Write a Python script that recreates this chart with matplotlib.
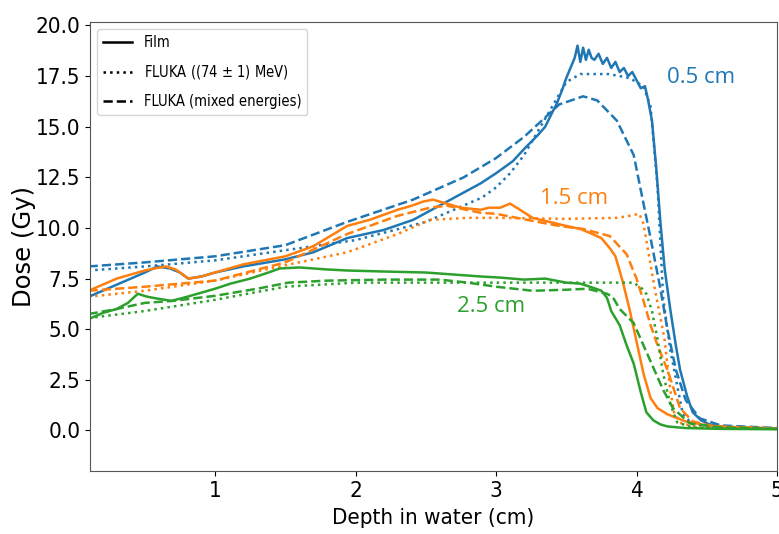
import matplotlib
matplotlib.use("Agg")
import matplotlib.pyplot as plt
from matplotlib.lines import Line2D

plt.rcParams['font.family'] = ['DejaVu Sans']
plt.rcParams['font.stretch'] = 'condensed'

# colours of the three field sizes
c_05 = '#1f77b4'
c_15 = '#ff7f0e'
c_25 = '#2ca02c'

# ---- 0.5 cm ----
x05_film = [0.10, 0.2, 0.3, 0.4, 0.5, 0.59, 0.68, 0.75, 0.81, 0.9, 1.0, 1.2, 1.5, 1.7, 1.94, 2.2, 2.41, 2.65,
            2.89, 3.0, 3.12, 3.2, 3.3, 3.35, 3.4, 3.43, 3.47, 3.5, 3.53, 3.56, 3.58, 3.6, 3.62, 3.64, 3.66, 3.68,
            3.7, 3.73, 3.76, 3.79, 3.82, 3.85, 3.88, 3.91, 3.94, 3.97, 4.0, 4.03, 4.06, 4.08,
            4.11, 4.14, 4.17, 4.2, 4.24, 4.28, 4.31, 4.36, 4.4, 4.46, 4.52, 4.6, 4.8, 5.0]
y05_film = [6.6, 6.9, 7.2, 7.5, 7.8, 8.1, 8.0, 7.8, 7.5, 7.6, 7.8, 8.1, 8.45, 8.8, 9.5, 9.9, 10.4, 11.3,
            12.2, 12.7, 13.3, 13.9, 14.6, 15.0, 15.7, 16.1, 16.8, 17.4, 17.9, 18.4, 19.0, 18.2, 18.9, 18.3, 18.8, 18.4,
            18.3, 18.6, 18.1, 18.4, 17.9, 18.2, 17.7, 17.9, 17.5, 17.7, 17.3, 16.9, 17.0, 16.4,
            15.3, 13.0, 10.3, 8.0, 6.0, 4.2, 3.0, 1.7, 0.9, 0.5, 0.3, 0.2, 0.12, 0.1]
x05_f74 = [0.1, 0.5, 1.0, 1.5, 2.0, 2.5, 2.9, 3.0, 3.1, 3.2, 3.3, 3.4, 3.5, 3.6, 3.7, 3.8, 3.88, 3.95, 4.05,
           4.1, 4.15, 4.19, 4.24, 4.29, 4.33, 4.4, 4.6, 5.0]
y05_f74 = [7.9, 8.1, 8.4, 8.9, 9.4, 10.3, 11.5, 12.0, 12.7, 13.6, 14.8, 16.0, 17.2, 17.6, 17.6, 17.6, 17.5, 17.4, 17.0,
           16.0, 12.0, 6.5, 4.0, 2.2, 0.8, 0.3, 0.15, 0.1]
x05_fmix = [0.1, 0.5, 1.0, 1.5, 1.94, 2.41, 2.77, 3.0, 3.2, 3.31, 3.45, 3.62, 3.72, 3.86, 3.98, 4.05, 4.1, 4.17,
            4.22, 4.28, 4.35, 4.45, 4.6, 5.0]
y05_fmix = [8.1, 8.3, 8.6, 9.15, 10.3, 11.4, 12.5, 13.45, 14.5, 15.2, 16.1, 16.5, 16.3, 15.3, 13.6, 11.2, 9.5, 7.0,
            5.0, 3.0, 1.5, 0.6, 0.25, 0.12]

# ---- 1.5 cm ----
x15_film = [0.1, 0.2, 0.3, 0.4, 0.5, 0.57, 0.65, 0.72, 0.81, 0.9, 1.0, 1.2, 1.5, 1.7, 1.94, 2.1, 2.3, 2.4, 2.48,
            2.55, 2.65, 2.75, 2.89, 2.95, 3.03, 3.1, 3.17, 3.26, 3.38, 3.5, 3.6, 3.67, 3.75, 3.81, 3.85, 3.9,
            3.95, 4.0, 4.05, 4.1, 4.15, 4.22, 4.35, 4.5, 4.7, 5.0]
y15_film = [6.9, 7.2, 7.5, 7.7, 7.9, 8.0, 8.1, 7.95, 7.5, 7.6, 7.8, 8.2, 8.6, 9.1, 10.1, 10.4, 10.9, 11.1, 11.3,
            11.4, 11.2, 11.0, 10.9, 11.0, 11.0, 11.2, 10.9, 10.5, 10.3, 10.1, 9.95, 9.75, 9.5, 9.0, 8.6, 7.4,
            6.0, 4.4, 2.8, 1.6, 1.1, 0.8, 0.45, 0.25, 0.15, 0.1]
x15_f74 = [0.1, 0.5, 1.0, 1.46, 1.94, 2.3, 2.53, 2.8, 3.0, 3.5, 3.86, 3.95, 4.02, 4.05, 4.08, 4.13, 4.2, 4.24,
           4.27, 4.32, 4.45, 5.0]
y15_f74 = [6.6, 6.9, 7.4, 8.1, 8.8, 9.7, 10.4, 10.5, 10.5, 10.45, 10.5, 10.6, 10.7, 10.2, 9.0, 7.0, 4.5, 2.0,
           0.8, 0.35, 0.15, 0.1]
x15_fmix = [0.1, 0.5, 1.0, 1.5, 1.94, 2.3, 2.53, 2.65, 2.89, 3.0, 3.26, 3.45, 3.62, 3.81, 3.93, 4.0, 4.05, 4.1,
            4.15, 4.22, 4.31, 4.4, 4.55, 5.0]
y15_fmix = [6.9, 7.1, 7.4, 8.3, 9.7, 10.6, 11.0, 11.1, 10.75, 10.7, 10.35, 10.1, 9.95, 9.6, 8.7, 7.5, 6.4, 5.2,
            4.2, 3.0, 1.1, 0.45, 0.2, 0.1]

# ---- 2.5 cm ----
x25_film = [0.1, 0.2, 0.3, 0.38, 0.45, 0.52, 0.6, 0.69, 0.8, 0.9, 1.0, 1.11, 1.25, 1.38, 1.46, 1.6, 1.8, 1.94,
            2.2, 2.5, 2.8, 2.9, 3.03, 3.2, 3.35, 3.5, 3.6, 3.69, 3.75, 3.79, 3.82, 3.88, 3.93, 3.98, 4.03, 4.07,
            4.12, 4.17, 4.22, 4.35, 4.6, 5.0]
y25_film = [5.5, 5.8, 6.0, 6.3, 6.75, 6.6, 6.5, 6.4, 6.6, 6.8, 7.0, 7.25, 7.5, 7.8, 8.0, 8.05, 7.95, 7.9,
            7.85, 7.8, 7.65, 7.6, 7.55, 7.45, 7.5, 7.3, 7.25, 7.05, 6.9, 6.55, 5.9, 5.2, 4.2, 3.3, 1.9, 0.9,
            0.5, 0.3, 0.2, 0.12, 0.08, 0.06]
x25_f74 = [0.1, 0.5, 1.0, 1.5, 2.0, 2.5, 3.0, 3.5, 3.86, 3.98, 4.04, 4.07, 4.11, 4.15, 4.19, 4.24, 4.29, 4.4, 5.0]
y25_f74 = [5.55, 5.9, 6.45, 7.1, 7.3, 7.3, 7.3, 7.3, 7.3, 7.3, 7.0, 6.75, 5.9, 4.5, 2.8, 1.3, 0.4, 0.15, 0.08]
x25_fmix = [0.1, 0.3, 0.5, 0.7, 1.0, 1.3, 1.52, 1.8, 2.2, 2.6, 2.8, 3.0, 3.26, 3.5, 3.65, 3.79, 3.83, 3.88,
            3.98, 4.05, 4.12, 4.19, 4.26, 4.38, 4.6, 5.0]
y25_fmix = [5.75, 6.0, 6.3, 6.4, 6.65, 7.0, 7.3, 7.4, 7.45, 7.45, 7.3, 7.1, 6.9, 6.95, 7.0, 6.75, 6.6, 6.0,
            5.3, 4.2, 3.1, 2.0, 1.1, 0.35, 0.15, 0.08]

labels = ['Film', 'FLUKA ((74 $\\pm$ 1) MeV)', 'FLUKA (mixed energies)']

fig = plt.figure(figsize=(7.79, 5.34), dpi=100)
ax = fig.add_axes([90/779, 63/534, 687/779, 449/534])

lw = 1.8
ax.plot(x05_film, y05_film, '-', color=c_05, lw=lw)
ax.plot(x05_f74, y05_f74, ':', color=c_05, lw=lw)
ax.plot(x05_fmix, y05_fmix, '--', color=c_05, lw=lw)
ax.plot(x15_film, y15_film, '-', color=c_15, lw=lw)
ax.plot(x15_f74, y15_f74, ':', color=c_15, lw=lw)
ax.plot(x15_fmix, y15_fmix, '--', color=c_15, lw=lw)
ax.plot(x25_film, y25_film, '-', color=c_25, lw=lw)
ax.plot(x25_f74, y25_f74, ':', color=c_25, lw=lw)
ax.plot(x25_fmix, y25_fmix, '--', color=c_25, lw=lw)

# annotations with normal width font
ax.text(4.22, 17.45, '0.5 cm', color=c_05, fontsize=16, family='Open Sans', fontstretch='normal', va='center')
ax.text(3.31, 11.45, '1.5 cm', color=c_15, fontsize=16, family='Open Sans', fontstretch='normal', va='center')
ax.text(2.72, 6.1, '2.5 cm', color=c_25, fontsize=16, family='Open Sans', fontstretch='normal', va='center')

ax.set_xlim(0.11, 5.0)
ax.set_ylim(-2.0, 20.17)
ax.set_xticks([1, 2, 3, 4, 5])
ax.set_yticks([0, 2.5, 5, 7.5, 10, 12.5, 15, 17.5, 20])
ax.set_yticklabels(['0.0', '2.5', '5.0', '7.5', '10.0', '12.5', '15.0', '17.5', '20.0'])
ax.tick_params(labelsize=16)
ax.set_xlabel('Depth in water (cm)', fontsize=16, labelpad=5)
ax.set_ylabel('Dose (Gy)', fontsize=17.5, fontstretch='normal')
ax.yaxis.set_label_coords(-0.078, 0.5)
for s in ax.spines.values():
    s.set_color('#555555')

handles = [Line2D([], [], color='black', ls='-', lw=lw),
           Line2D([], [], color='black', ls=':', lw=lw),
           Line2D([], [], color='black', ls='--', lw=lw)]
ax.legend(handles, labels, loc='upper left', fontsize=10.5, handlelength=2.0, labelspacing=0.9)

fig.savefig('out.png', dpi=100)
